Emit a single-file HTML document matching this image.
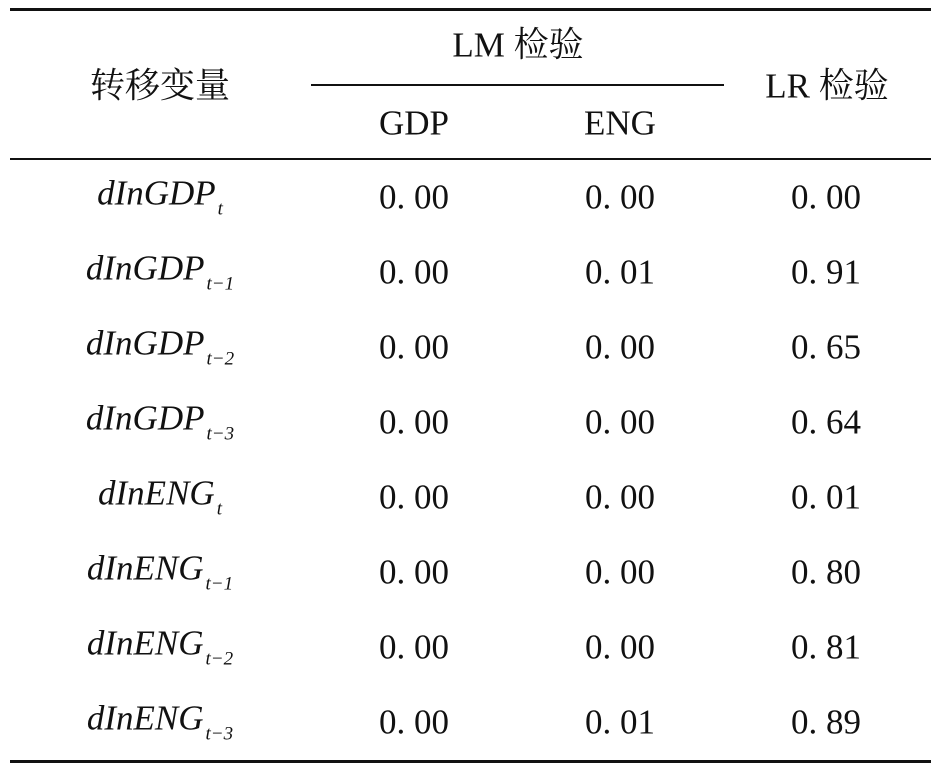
<!DOCTYPE html>
<html><head><meta charset="utf-8"><style>
body{margin:0;background:#fff;}
#t{position:relative;width:938px;height:768px;background:#fff;font-family:"Liberation Serif","Noto Serif CJK SC",serif;color:#111;}
.r{position:absolute;height:0;background:#111;}
.c{position:absolute;transform:translate(-50%,-50%);white-space:nowrap;font-size:35px;line-height:1;}
.h{font-family:"Liberation Serif","Noto Serif CJK SC",serif;}
.v i{font-style:italic;}
.v sub{font-size:19px;vertical-align:-10px;font-style:italic;margin-left:2px;}
</style></head><body>
<div id="t">
<div class="r" style="left:10px;top:8px;width:921px;height:3px"></div>
<div class="r" style="left:311px;top:84px;width:413px;height:1.5px"></div>
<div class="r" style="left:10px;top:158px;width:921px;height:1.5px"></div>
<div class="r" style="left:10px;top:760px;width:921px;height:3px"></div>
<div class="c h" style="left:160px;top:86px">转移变量</div>
<div class="c h" style="left:518px;top:45px">LM 检验</div>
<div class="c h" style="left:827px;top:86px">LR 检验</div>
<div class="c" style="left:414px;top:123px">GDP</div>
<div class="c" style="left:620px;top:123px">ENG</div>
<div id="rows"></div>
</div>
<script>
const labels=["GDP","GDP","GDP","GDP","ENG","ENG","ENG","ENG"];
const subs=["t","t−1","t−2","t−3","t","t−1","t−2","t−3"];
const lmGDP=["0. 00","0. 00","0. 00","0. 00","0. 00","0. 00","0. 00","0. 00"];
const lmENG=["0. 00","0. 01","0. 00","0. 00","0. 00","0. 00","0. 00","0. 01"];
const lr=["0. 00","0. 91","0. 65","0. 64","0. 01","0. 80","0. 81","0. 89"];
const t=document.getElementById('t');
function cell(x,y,html,name){
  const d=document.createElement('div');
  d.className='c v';
  d.style.left=x+'px';d.style.top=y+'px';
  d.innerHTML=html;
  
  
  t.appendChild(d);
}
for(let i=0;i<labels.length;i++){
  const y=197+i*75;
  cell(160,y,'<i>dIn'+labels[i]+'</i><sub>'+subs[i]+'</sub>','row-label');
  cell(414,y,lmGDP[i],'lm-gdp-value');
  cell(620,y,lmENG[i],'lm-eng-value');
  cell(826,y,lr[i],'lr-value');
}
</script>
</body></html>
